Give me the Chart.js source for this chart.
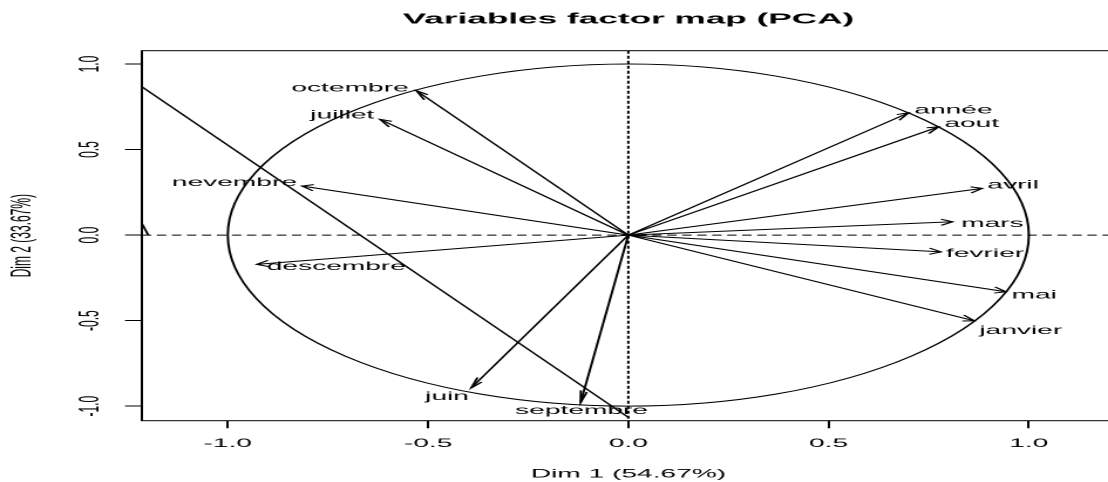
<!DOCTYPE html>
<html>
<head>
<meta charset="utf-8">
<title>Variables factor map (PCA)</title>
<script src="https://cdn.jsdelivr.net/npm/chart.js@4/dist/chart.umd.min.js"></script>
<style>
    html, body { margin: 0; padding: 0; overflow: hidden; background: #fff; }
    /* the reference is an R plot stretched sideways, so draw at true aspect then stretch */
    #wrap { width: 476px; height: 482px; transform: scaleX(2.345); transform-origin: 0 0; }
</style>
</head>
<body>
<div id="wrap"><canvas id="pca"></canvas></div>
<script>
// variables and their coordinates on the first two dimensions
const varNames = ['octembre', 'juillet', 'nevembre', 'descembre', 'juin', 'septembre',
                  'année', 'aout', 'avril', 'mars', 'fevrier', 'mai', 'janvier'];
const dim1 = [-0.529, -0.620, -0.815, -0.928, -0.392, -0.119,
               0.700,  0.775,  0.884,  0.810,  0.781,  0.943,  0.864];
const dim2 = [ 0.844,  0.677,  0.287, -0.171, -0.893, -0.978,
               0.715,  0.633,  0.273,  0.078, -0.098, -0.331, -0.501];

const xTicks = [-1.0, -0.5, 0.0, 0.5, 1.0];
const yTicks = [-1.0, -0.5, 0.0, 0.5, 1.0];

// stray lines that show up on the plot
const strayX = [-1.2145, 0.0015];
const strayY = [0.867, -1.068];
const slashX = [-1.2145, -1.1985];
const slashY = [0.068, 0.0];

const FONT = "'Liberation Sans', Arial, Helvetica, sans-serif";
const STRETCH = 2.345;   // same as the css scaleX

// where each label sits against its arrow tip: [align, dx, dy to baseline]
const labelPlace = {
    'octembre':  ['right', -3.3, 1],
    'juillet':   ['right', -2.4, -1],
    'nevembre':  ['right', -2.1, 0],
    'descembre': ['left', 4.3, 5.7],
    'juin':      ['right', -1, 12.3],
    'septembre': ['center', 0.4, 11.7],
    'année':     ['left', 2.4, 0.6],
    'aout':      ['left', 2.4, 0],
    'avril':     ['left', 2.1, 0],
    'mars':      ['left', 3.6, 5],
    'fevrier':   ['left', 2.1, 5],
    'mai':       ['left', 2.4, 6.6],
    'janvier':   ['left', 2.1, 13.3]
};

const datasets = varNames.map((name, i) => ({
    label: name,
    data: [{ x: 0, y: 0 }, { x: dim1[i], y: dim2[i] }],
    showLine: true,
    borderColor: '#000',
    borderWidth: 1,
    pointRadius: 0
}));
datasets.push({
    label: 'stray',
    data: strayX.map((x, i) => ({ x: x, y: strayY[i] })),
    showLine: true, borderColor: '#000', borderWidth: 1, pointRadius: 0
});
datasets.push({
    label: 'slash',
    data: slashX.map((x, i) => ({ x: x, y: slashY[i] })),
    showLine: true, borderColor: '#000', borderWidth: 1, pointRadius: 0
});

// arrow head worked out in the stretched (on screen) space
function drawHead(ctx, x0, y0, x1, y1, len, ang) {
    const a = Math.atan2(y1 - y0, (x1 - x0) * STRETCH);
    ctx.beginPath();
    ctx.moveTo(x1 - len * Math.cos(a - ang) / STRETCH, y1 - len * Math.sin(a - ang));
    ctx.lineTo(x1, y1);
    ctx.lineTo(x1 - len * Math.cos(a + ang) / STRETCH, y1 - len * Math.sin(a + ang));
    ctx.stroke();
}

const pcaPlugin = {
    id: 'pcaDecor',
    beforeDatasetsDraw(chart) {
        const { ctx, chartArea: ca, scales: { x, y } } = chart;
        const x0 = x.getPixelForValue(0), y0 = y.getPixelForValue(0);
        ctx.save();
        ctx.beginPath();
        ctx.rect(ca.left, ca.top, ca.right - ca.left, ca.bottom - ca.top);
        ctx.clip();
        ctx.strokeStyle = '#000';
        ctx.lineWidth = 1;
        // correlation circle
        ctx.beginPath();
        ctx.ellipse(x0, y0, x.getPixelForValue(1) - x0, y0 - y.getPixelForValue(1), 0, 0, Math.PI * 2);
        ctx.stroke();
        // zero lines
        ctx.setLineDash([4, 2.4]);
        ctx.beginPath();
        ctx.moveTo(ca.left, y0);
        ctx.lineTo(ca.right, y0);
        ctx.stroke();
        ctx.setLineDash([3, 2]);
        ctx.beginPath();
        ctx.moveTo(x0, ca.top);
        ctx.lineTo(x0, ca.bottom);
        ctx.stroke();
        ctx.restore();
    },
    afterDatasetsDraw(chart) {
        const { ctx, chartArea: ca, scales: { x, y } } = chart;
        const x0 = x.getPixelForValue(0), y0 = y.getPixelForValue(0);
        ctx.save();
        ctx.strokeStyle = '#000';
        ctx.fillStyle = '#000';
        ctx.lineWidth = 1;
        ctx.font = '12px ' + FONT;
        ctx.textBaseline = 'alphabetic';
        varNames.forEach((name, i) => {
            const px = x.getPixelForValue(dim1[i]);
            const py = y.getPixelForValue(dim2[i]);
            drawHead(ctx, x0, y0, px, py, 12, Math.PI / 12);
            const p = labelPlace[name];
            ctx.textAlign = p[0];
            ctx.fillText(name, px + p[1], py + p[2]);
        });
        // box round the plot
        ctx.strokeRect(ca.left, ca.top, ca.right - ca.left, ca.bottom - ca.top);
        ctx.restore();
    }
};

const ctx = document.getElementById('pca').getContext('2d');
new Chart(ctx, {
    type: 'scatter',
    data: { datasets: datasets },
    options: {
        responsive: true,
        maintainAspectRatio: false,
        animation: false,
        devicePixelRatio: 2,
        layout: { padding: 0 },
        plugins: {
            legend: { display: false },
            tooltip: { enabled: false },
            title: {
                display: true,
                text: 'Variables factor map (PCA)',
                fullSize: false,
                color: '#000',
                font: { family: FONT, size: 15, weight: 'bold' },
                padding: { top: 10.5, bottom: 22.2 }
            }
        },
        scales: {
            x: {
                type: 'linear',
                min: -1.2145,
                max: 1.2153,
                afterBuildTicks: s => { s.ticks = xTicks.map(v => ({ value: v })); },
                afterFit: s => { s.height = 61.3; },
                grid: { drawOnChartArea: false, drawTicks: true, tickLength: 7.6, color: '#000' },
                border: { display: false },
                ticks: {
                    color: '#000',
                    font: { family: FONT, size: 12 },
                    padding: 8,
                    maxRotation: 0,
                    autoSkip: false,
                    callback: v => v.toFixed(1)
                },
                title: {
                    display: true,
                    text: 'Dim 1 (54.67%)',
                    color: '#000',
                    font: { family: FONT, size: 12 },
                    padding: { top: 0, bottom: 0.5 }
                }
            },
            y: {
                type: 'linear',
                min: -1.085,
                max: 1.078,
                afterBuildTicks: s => { s.ticks = yTicks.map(v => ({ value: v })); },
                afterFit: s => { s.width = 60.5; },
                grid: { drawOnChartArea: false, drawTicks: true, tickLength: 7.2, color: '#000' },
                border: { display: false },
                ticks: {
                    color: '#000',
                    font: { family: FONT, size: 12 },
                    padding: 4.2,
                    minRotation: 90,
                    maxRotation: 90,
                    crossAlign: 'center',
                    autoSkip: false,
                    callback: v => v.toFixed(1)
                },
                title: {
                    display: true,
                    text: 'Dim 2 (33.67%)',
                    color: '#000',
                    font: { family: FONT, size: 12 },
                    padding: { top: 2.6, bottom: 0 }
                }
            }
        }
    },
    plugins: [pcaPlugin]
});
</script>
</body>
</html>
